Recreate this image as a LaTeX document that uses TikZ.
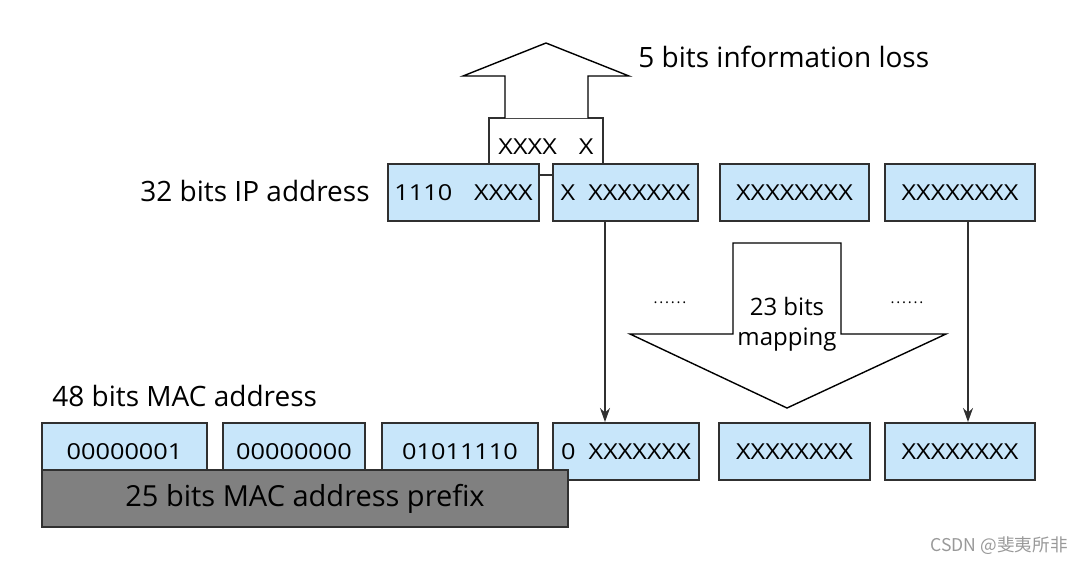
\documentclass[tikz,border=0pt]{standalone}
\usepackage{fontspec}
\setmainfont{Open Sans}
\newfontfamily\boxfont[FakeStretch=1.15]{Open Sans}
\newfontfamily\cjkfont{Noto Sans CJK SC}
\usetikzlibrary{arrows.meta}
\definecolor{boxblue}{HTML}{C8E6FA}
\definecolor{prefixgray}{HTML}{808080}
\definecolor{edge}{HTML}{303030}
\newcommand{\sixdots}{.\kern0.9pt.\kern0.9pt.\kern0.9pt.\kern0.9pt.\kern0.9pt.}
\tikzset{
  bitbox/.style={draw=edge, line width=1pt, fill=boxblue, minimum height=28.5pt, inner sep=0pt, font=\boxfont\fontsize{11}{12}\selectfont},
  plainbox/.style={draw=edge, line width=0.8pt, fill=white, minimum height=28.5pt, inner sep=0pt, font=\boxfont\fontsize{11}{12}\selectfont},
  prefixbox/.style={draw=edge, line width=1pt, fill=prefixgray, minimum height=28.5pt, minimum width=263pt, inner sep=0pt, font=\fontsize{14.5}{16}\selectfont},
  label/.style={inner sep=0pt, font=\fontsize{14}{16}\selectfont},
  bigarrow/.style={draw=black, line width=0.7pt, fill=white},
  maparrow/.style={draw=edge, line width=0.8pt, -{Stealth[length=7pt,width=5pt]}},
  dots/.style={inner sep=0pt, font=\fontsize{7.5}{9}\selectfont},
}
\begin{document}
\begin{tikzpicture}[x=0.5pt,y=-0.5pt]
\useasboundingbox (0,0) rectangle (1084,564);
% lost bits box (behind)
\node[plainbox, minimum width=57pt] (lost) at (546,146.5) {XXXX\quad X};
% up arrow
\coordinate (ua1) at (505,118);
\coordinate (ua2) at (588,118);
\draw[bigarrow] (ua1) -- (505,76) -- (463,76) -- (546,43) -- (629,76) -- (588,76) -- (ua2);
\node[label, anchor=west] (loss) at (638,57) {5 bits information loss};
% IP row
\node[label, anchor=east] (iplabel) at (370,191) {32 bits IP address};
\node[bitbox, minimum width=75.5pt] (ip1) at (463.5,192.5) {1110\quad XXXX};
\node[bitbox, minimum width=72.5pt] (ip2) at (625.5,192.5) {X\ \ XXXXXXX};
\node[bitbox, minimum width=74.5pt] (ip3) at (794.5,192.5) {XXXXXXXX};
\node[bitbox, minimum width=75pt] (ip4) at (960,192.5) {XXXXXXXX};
% big down arrow
\draw[bigarrow] (733,243) -- (841,243) -- (841,334) -- (946,334) -- (787,408) -- (630,334) -- (733,334) -- cycle;
\node[inner sep=0pt, align=center, font=\fontsize{12}{15}\selectfont] (map) at (787,324) {23 bits\\mapping};
\node[dots] (dl) at (670,303) {\sixdots};
\node[dots] (dr) at (907,303) {\sixdots};
% MAC row
\node[label, anchor=west] (maclabel) at (52,396) {48 bits MAC address};
\node[bitbox, minimum width=82.5pt] (m1) at (124.5,451.5) {00000001};
\node[bitbox, minimum width=71pt] (m2) at (294,451.5) {00000000};
\node[bitbox, minimum width=78pt] (m3) at (460,451.5) {01011110};
\node[bitbox, minimum width=73pt] (m4) at (626,451.5) {0\ \ XXXXXXX};
\node[bitbox, minimum width=75.5pt] (m5) at (794.5,451.5) {XXXXXXXX};
\node[bitbox, minimum width=75pt] (m6) at (960,451.5) {XXXXXXXX};
\node[prefixbox] (prefix) at (305,498.5) {25 bits MAC address prefix};
% mapping arrows
\draw[maparrow] (ip2.south -| 605,0) -- (m4.north -| 605,0);
\draw[maparrow] (ip4.south -| 968,0) -- (m6.north -| 968,0);
% watermark
\node[inner sep=0pt, anchor=east, text=black!40, font=\cjkfont\fontsize{8.8}{10}\selectfont] (wm) at (1068,546) {CSDN @斐夷所非};
\end{tikzpicture}
\end{document}
